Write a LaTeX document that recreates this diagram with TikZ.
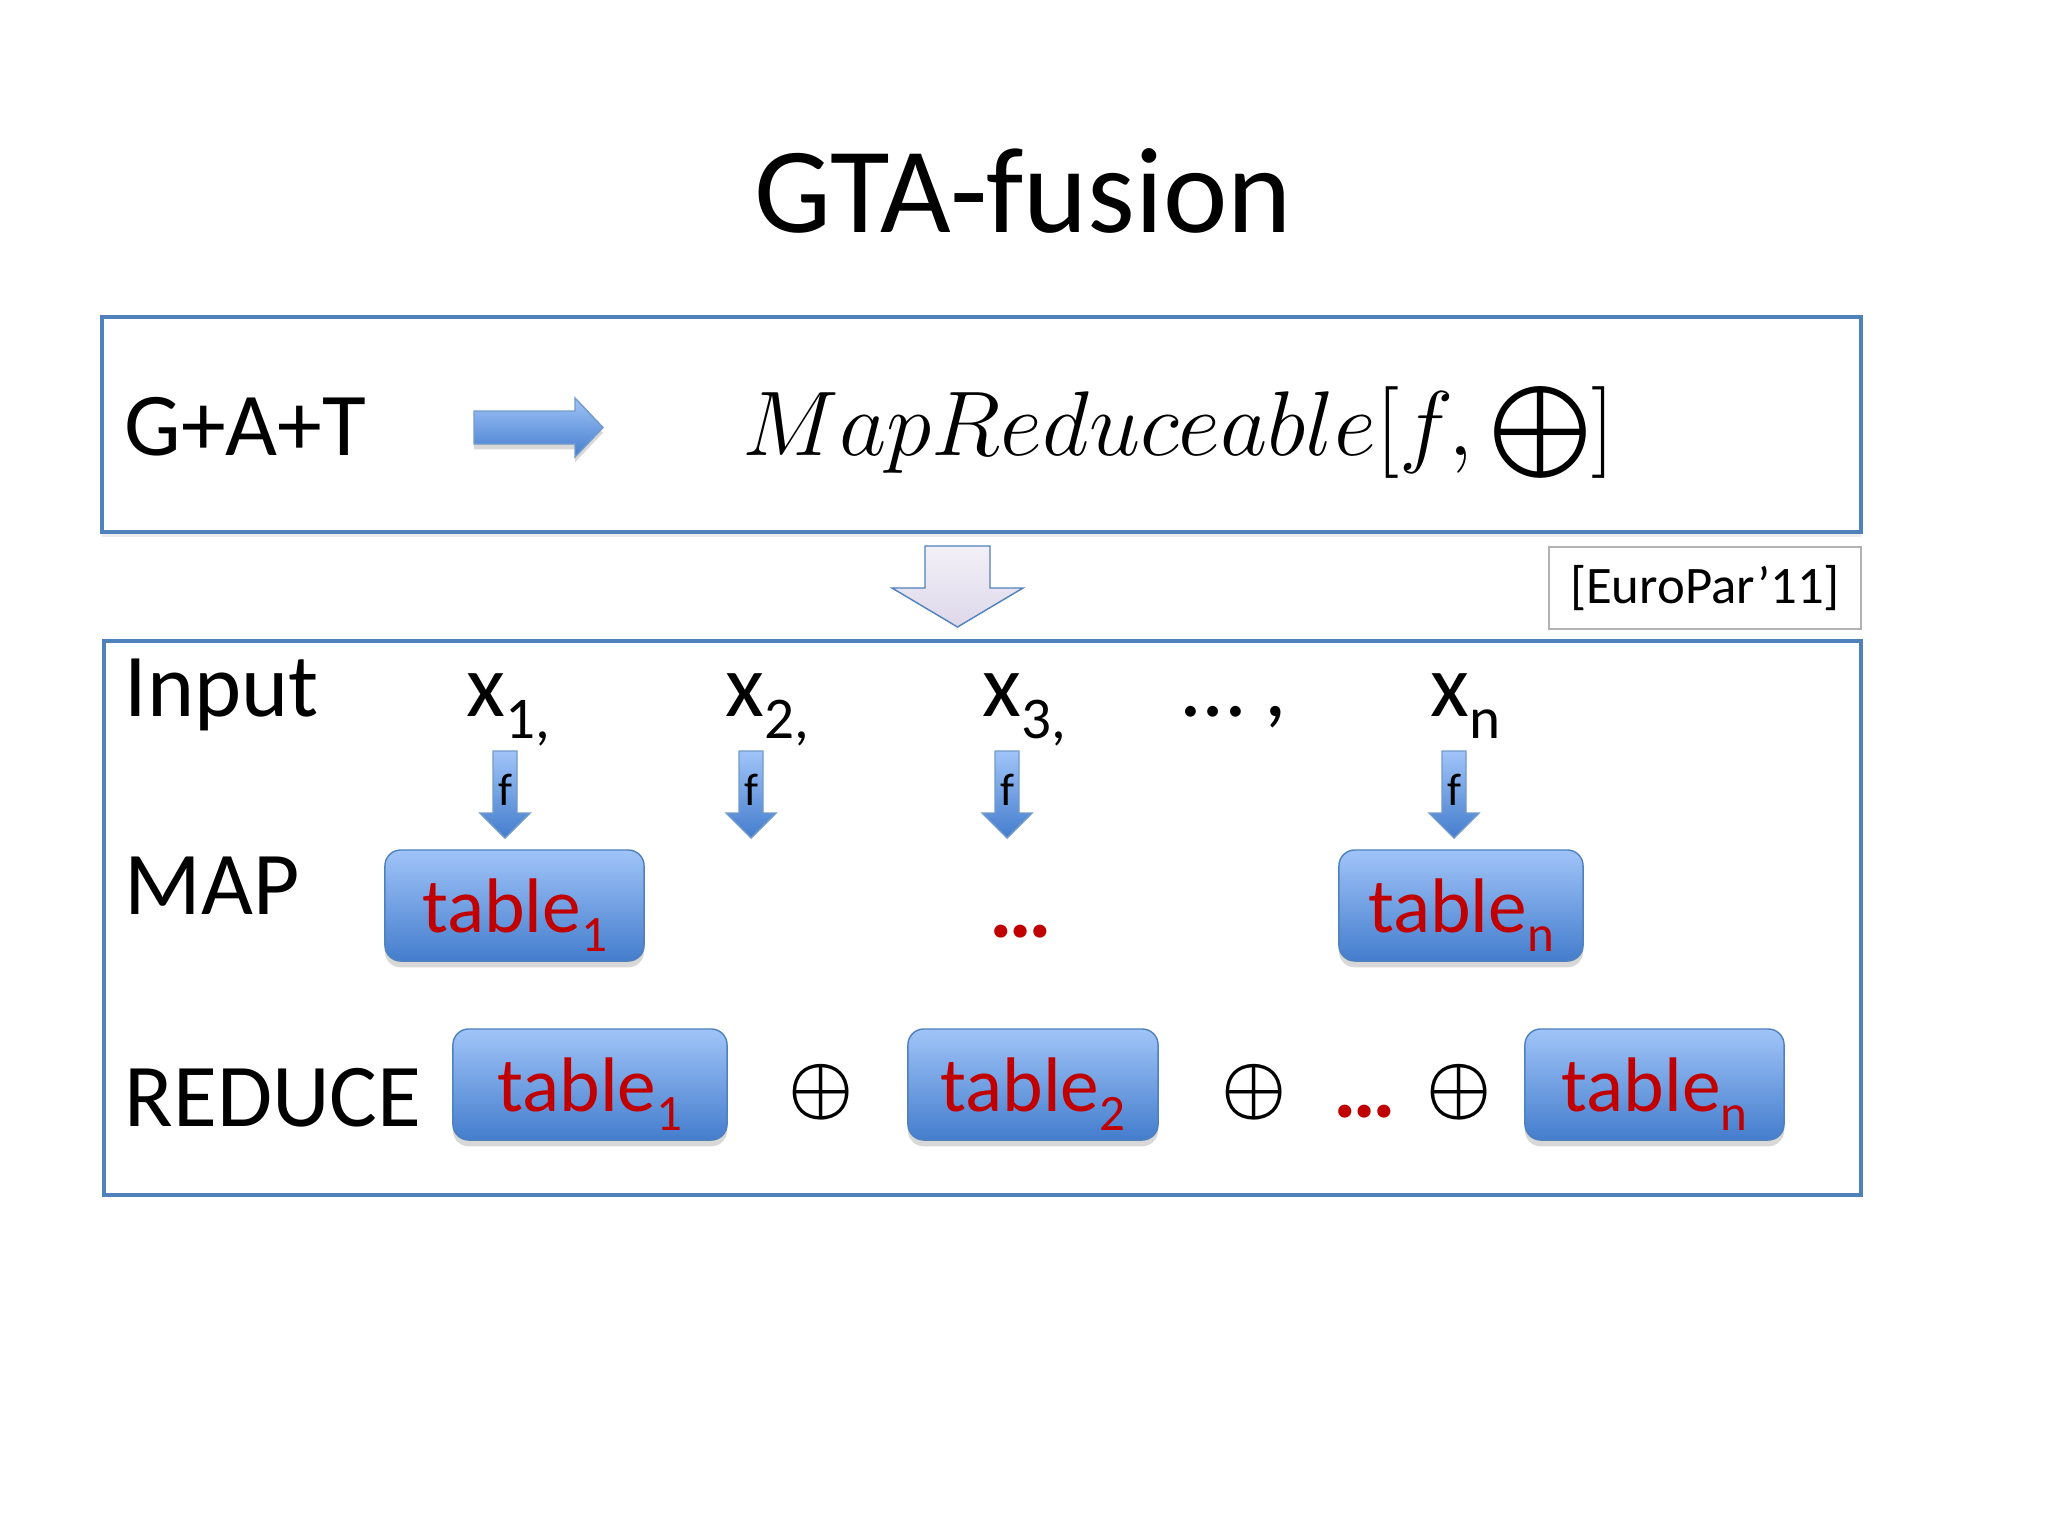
\documentclass[tikz,border=0pt]{standalone}
\usepackage{amsmath}
\usepackage[no-math]{fontspec}
\setmainfont{Carlito}
\usetikzlibrary{shadows}
\definecolor{frameblue}{RGB}{79,129,189}
\definecolor{boxtop}{RGB}{160,196,248}
\definecolor{boxbottom}{RGB}{68,125,205}
\definecolor{tablered}{RGB}{192,0,0}
\definecolor{lavtop}{RGB}{242,240,247}
\definecolor{lavbottom}{RGB}{222,216,234}
\newcommand{\lowsub}[1]{\raisebox{-0.25em}{\scalebox{0.66}{#1}}}

\begin{document}
\begin{tikzpicture}
[x=0.01cm, y=-0.01cm,
  every node/.style={inner sep=0pt, anchor=base west},
  body/.style={font=\fontsize{25.5}{30}\selectfont},
  frame/.style={draw=frameblue, line width=1.1pt},
  tbl/.style={draw=frameblue, rounded corners=4.5pt, top color=boxtop, bottom color=boxbottom,
    minimum height=1.11cm, text depth=0pt, anchor=center, text=tablered, font=\fontsize{22}{26}\selectfont,
    drop shadow={shadow xshift=0pt, shadow yshift=-1.8pt, opacity=0.3}},
  blockarrow/.style={draw=frameblue!80, line width=0.4pt, top color=boxtop, bottom color=boxbottom},
  dots/.style={anchor=base, text=tablered, font=\fontsize{25}{30}\selectfont\bfseries}]
  \fill[white] (0,0) rectangle (2048,1536);
  \useasboundingbox (0,0) rectangle (2048,1536);

  \node (title) [anchor=base, font=\fontsize{34.7}{40}\selectfont] at (1023,232) {GTA-fusion};

  % upper frame
  \draw[frame, drop shadow={shadow xshift=0pt, shadow yshift=-1.5pt, opacity=0.15}, fill=white]
    (102,317) rectangle (1861,532);
  \node[body] (gat) at (124,455) {G+A+T};
  \path[blockarrow, drop shadow={shadow xshift=0pt, shadow yshift=-1.5pt, opacity=0.3}]
    (474,411) -- (575,411) -- (575,398) -- (603,427.5) -- (575,457) -- (575,444) -- (474,444) -- cycle;
  \node (mr) [font=\fontsize{26.5}{32}\selectfont] at (742,455)
    {\resizebox{8.71cm}{!}{$MapReduceable[f,\mathord{\textstyle\boldsymbol{\bigoplus}}]$}};

  \path[draw=frameblue, top color=lavtop, bottom color=lavbottom]
    (925,546) -- (990,546) -- (990,588) -- (1023,588) -- (957.5,627) -- (892,588) -- (925,588) -- cycle;
  \node (cite) [draw=gray!60, minimum width=3.12cm, minimum height=0.82cm, anchor=center,
    font=\fontsize{15}{18}\selectfont] at (1705,588) {[EuroPar’11]};

  % lower frame
  \draw[frame] (104,641) rectangle (1861,1195);
  \node[body] (input) at (124,716) {Input};
  \node[body] (x1) at (466,716) {x\lowsub{1,}};
  \node[body] (x2) at (725,716) {x\lowsub{2,}};
  \node[body] (x3) at (982,716) {x\lowsub{3,}};
  \node[body] (xdots) at (1182,716) {… ,};
  \node[body] (xn) at (1430,716) {x\lowsub{n}};

  \foreach \c/\i in {505/1, 751/2, 1007/3, 1454/n}{
    \path[blockarrow] (\c-12,751) -- (\c+12,751) -- (\c+12,813) -- (\c+25,813) -- (\c,838)
      -- (\c-25,813) -- (\c-12,813) -- cycle;
    \node (f\i) [anchor=base, font=\fontsize{13}{16}\selectfont] at (\c,805) {f};
  }

  \node[body] (map) at (124,914) {MAP};
  \node[tbl, minimum width=2.59cm] (map1) at (514.5,905.5) {table\lowsub{1}};
  \node[dots] (mapdots) at (1021,937) {…};
  \node[tbl, minimum width=2.44cm] (mapn) at (1461,905.5) {table\lowsub{n}};

  \node[body] (reduce) at (124,1126) {REDUCE};
  \node[tbl, minimum width=2.74cm] (red1) at (590,1084.5) {table\lowsub{1}};
  \node[tbl, minimum width=2.50cm] (red2) at (1033,1084.5) {table\lowsub{2}};
  \node[tbl, minimum width=2.59cm] (redn) at (1654.5,1084.5) {table\lowsub{n}};
  \foreach \c/\i in {821/1, 1254/2, 1459/3}
    \node (op\i) [anchor=center, font=\fontsize{20}{24}\selectfont] at (\c,1092) {$\boldsymbol{\oplus}$};
  \node[dots] (reddots) at (1365,1117) {…};
\end{tikzpicture}
\end{document}
